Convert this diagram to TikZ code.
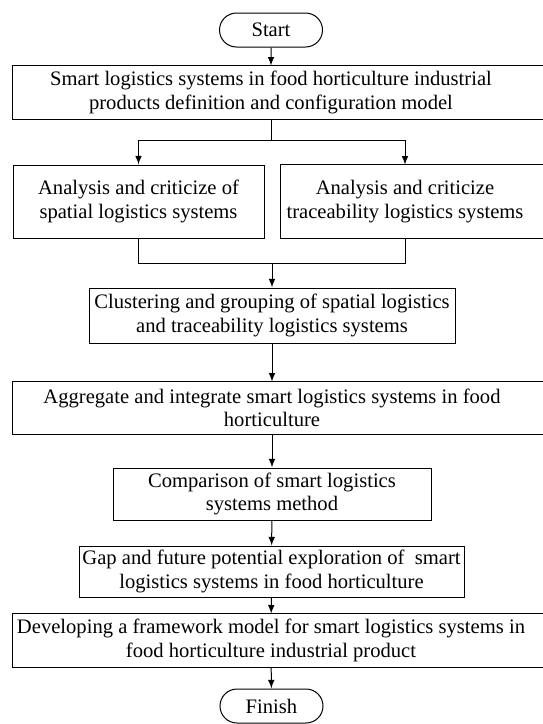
\documentclass[tikz,border=0pt]{standalone}
\usepackage{fontspec}
\setmainfont{Liberation Serif}
\usetikzlibrary{shapes.misc, arrows}
\tikzstyle{terminal} = [rounded rectangle, minimum width=53.5pt, minimum height=17pt, inner sep=1pt, text centered, draw=black, line width=0.5pt]
\tikzstyle{process} = [rectangle, inner sep=1pt, align=center, draw=black, line width=0.5pt]
\tikzstyle{openbox} = [rectangle, inner sep=1pt, align=center, minimum height=26.5pt]
\tikzstyle{arrow} = [line width=0.5pt,->,>=latex]
\tikzstyle{line} = [line width=0.5pt]

\begin{document}
\begin{tikzpicture}[x=1pt, y=-1pt, node distance=40pt, font=\fontsize{10.3}{11.6}\selectfont]
				\useasboundingbox (0,0) rectangle (271,362);
				\node(start) [terminal] at (135.5,15) {Start};
				\node(def) [openbox, minimum width=258pt, below of=start, yshift=8.75pt] {Smart logistics systems in food horticulture industrial\\products definition and configuration model};
				
				\node(spatial) [process, minimum width=125.5pt, minimum height=36.5pt, below of=def, yshift=-14.5pt, xshift=-66.25pt] {Analysis and criticize of\\spatial logistics systems};
				\node(trace) [openbox, minimum width=124pt, minimum height=36.5pt, right of=spatial, xshift=93.25pt] {Analysis and criticize\\traceability logistics systems};
				
				\node(cluster) [process, minimum width=183pt, minimum height=27.5pt, below of=def, yshift=-71.5pt, xshift=0.5pt] {Clustering and grouping of spatial logistics\\and traceability logistics systems};
				\node(aggr) [openbox, minimum width=259pt, minimum height=26pt, below of=cluster, yshift=-6.25pt] {Aggregate and integrate smart logistics systems in food\\horticulture};
				\node(comp) [process, minimum width=159pt, minimum height=26pt, below of=aggr, yshift=-3pt] {Comparison of smart logistics\\systems method};
				\node(gap) [process, minimum width=192.5pt, minimum height=25.5pt, below of=comp, yshift=1.25pt, xshift=-0.25pt] {Gap and future potential exploration of~ smart\\logistics systems in food horticulture};
				\node(dev) [openbox, minimum width=258pt, below of=gap, yshift=5.5pt, xshift=-0.25pt] {Developing a framework model for smart logistics systems in\\food horticulture industrial product};
				\node(finish) [terminal, below of=dev, yshift=7.25pt, xshift=0.25pt] {Finish};
				
				% frames cut off at the right edge
				\foreach \n in {def, trace, aggr, dev}
				\draw[line] ([xshift=12pt]\n.north east) -- (\n.north west) -- (\n.south west) -- ([xshift=12pt]\n.south east);
				
				\coordinate(split) at (135.5,70);
				\coordinate(merge) at (136,131.5);
				
				\draw[arrow] (start) -- (def);
				\draw[line] (def) -- (split);
				\draw[arrow] (split) -| (spatial);
				\draw[arrow] (split) -| (trace);
				\draw[line] (spatial) |- (merge);
				\draw[line] (trace) |- (merge);
				\draw[arrow] (merge) -- (cluster);
				\draw[arrow] (cluster) -- (aggr);
				\draw[arrow] (aggr) -- (comp);
				\draw[arrow] (comp) -- (gap);
				\draw[arrow] (gap) -- (dev);
				\draw[arrow] (dev) -- (finish);
			\end{tikzpicture}
\end{document}
